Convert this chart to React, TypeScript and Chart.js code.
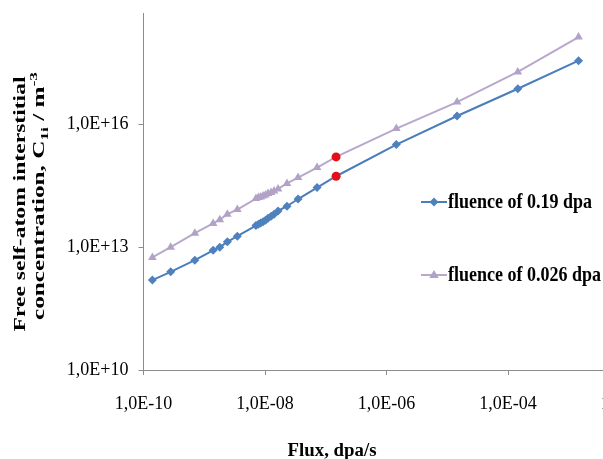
import React, { useEffect, useRef } from "react";
import { Chart, registerables } from "chart.js";

Chart.register(...registerables);

// ---- data ----
const fluxValues = [
  1.4e-10, 2.8e-10, 7.0e-10, 1.4e-9, 1.8e-9, 2.4e-9, 3.5e-9, 7.1e-9,
  7.8e-9, 8.5e-9, 9.3e-9, 1.02e-8, 1.12e-8, 1.26e-8, 1.41e-8, 1.64e-8,
  2.3e-8, 3.5e-8, 7.2e-8, 1.48e-7, 1.45e-6, 1.45e-5, 1.45e-4, 1.45e-3,
];
const fluence019 = [
  1.57e12, 2.5e12, 4.8e12, 8.4e12, 1.0e13, 1.35e13, 1.85e13, 3.38e13,
  3.64e13, 3.9e13, 4.2e13, 4.56e13, 5.1e13, 5.7e13, 6.4e13, 7.7e13,
  1.0e14, 1.5e14, 2.86e14, 5.4e14, 3.2e15, 1.6e16, 7.4e16, 3.6e17,
];
const fluence0026 = [
  5.6e12, 1.0e13, 2.2e13, 3.8e13, 4.7e13, 6.4e13, 8.3e13, 1.54e14,
  1.63e14, 1.69e14, 1.78e14, 1.89e14, 2.04e14, 2.16e14, 2.36e14, 2.64e14,
  3.6e14, 5.0e14, 8.8e14, 1.6e15, 7.9e15, 3.5e16, 1.9e17, 1.35e18,
];
const highlightIndex = 19;
const seriesLabels = ["fluence of 0.19 dpa", "fluence of 0.026 dpa"];
const xTickValues = [1e-10, 1e-8, 1e-6, 1e-4, 1e-2];
const yTickValues = [1e10, 1e13, 1e16];
const xAxisTitle = "Flux, dpa/s";
const yAxisTitleLine1 = "Free self-atom interstitial";

// ---- styles ----
const CANVAS_W = 680;
const SHIFT = 7; // canvas is moved up by this many pixels
const CANVAS_H = 459 + SHIFT;
const BLUE_LINE = "#4a7ebb";
const BLUE_MARK = "#4f81bd";
const PURPLE_LINE = "#b8a8cc";
const PURPLE_MARK = "#b3a2c7";
const RED = "#e3101c";
const AXIS = "#8c8c8c";
const SERIF = "'Liberation Serif', 'Times New Roman', serif";

function fmtSci(v: number): string {
  const e = Math.round(Math.log10(v));
  const sign = e < 0 ? "-" : "+";
  return `1,0E${sign}${String(Math.abs(e)).padStart(2, "0")}`;
}

function drawMarker(ctx: CanvasRenderingContext2D, style: string, x: number, y: number, r: number, color: string) {
  ctx.save();
  ctx.fillStyle = color;
  ctx.beginPath();
  if (style === "rectRot") {
    ctx.moveTo(x, y - r);
    ctx.lineTo(x + r, y);
    ctx.lineTo(x, y + r);
    ctx.lineTo(x - r, y);
  } else {
    ctx.moveTo(x, y - r);
    ctx.lineTo(x + r * 0.95, y + r * 0.6);
    ctx.lineTo(x - r * 0.95, y + r * 0.6);
  }
  ctx.closePath();
  ctx.fill();
  ctx.restore();
}

const decorPlugin = {
  id: "decor",
  afterDraw(chart: any) {
    const ctx: CanvasRenderingContext2D = chart.ctx;
    ctx.save();
    ctx.translate(0, SHIFT);
    ctx.fillStyle = "#000";

    // x axis title
    ctx.font = `bold 18px ${SERIF}`;
    ctx.textAlign = "center";
    ctx.textBaseline = "alphabetic";
    {
      const w = ctx.measureText(xAxisTitle).width;
      ctx.save();
      ctx.translate(332, 456);
      ctx.scale(89 / w, 1);
      ctx.fillText(xAxisTitle, 0, 0);
      ctx.restore();
    }

    // y axis title line 1
    {
      ctx.font = `bold 16px ${SERIF}`;
      const w = ctx.measureText(yAxisTitleLine1).width;
      ctx.save();
      ctx.translate(25, 204);
      ctx.rotate(-Math.PI / 2);
      ctx.scale(255 / w, 1);
      ctx.textAlign = "center";
      ctx.fillText(yAxisTitleLine1, 0, 0);
      ctx.restore();
    }
    // y axis title line 2 with sub/superscripts
    {
      const runs = [
        { t: "concentration, C", size: 16, dy: 0 },
        { t: "1i", size: 11, dy: 4 },
        { t: " / m", size: 16, dy: 0 },
        { t: "-3", size: 11, dy: -7 },
      ];
      let total = 0;
      const widths: number[] = [];
      for (const r of runs) {
        ctx.font = `bold ${r.size}px ${SERIF}`;
        const w = ctx.measureText(r.t).width;
        widths.push(w);
        total += w;
      }
      ctx.save();
      ctx.translate(44, 196);
      ctx.rotate(-Math.PI / 2);
      ctx.scale(248 / total, 1);
      ctx.textAlign = "left";
      let x = -total / 2;
      runs.forEach((r, i) => {
        ctx.font = `bold ${r.size}px ${SERIF}`;
        ctx.fillText(r.t, x, r.dy);
        x += widths[i];
      });
      ctx.restore();
    }

    // legend
    const legendY = [202, 275];
    const legendStyles = [
      { line: BLUE_LINE, mark: BLUE_MARK, style: "rectRot", r: 4.5 },
      { line: PURPLE_LINE, mark: PURPLE_MARK, style: "triangle", r: 5 },
    ];
    ctx.font = `bold 18px ${SERIF}`;
    ctx.textAlign = "left";
    ctx.textBaseline = "middle";
    seriesLabels.forEach((label, i) => {
      const y = legendY[i];
      const s = legendStyles[i];
      ctx.strokeStyle = s.line;
      ctx.lineWidth = 2;
      ctx.beginPath();
      ctx.moveTo(421, y);
      ctx.lineTo(447, y);
      ctx.stroke();
      drawMarker(ctx, s.style, 434, y, s.r, s.mark);
      ctx.fillStyle = "#000";
      ctx.save();
      ctx.translate(448, y + 1);
      ctx.scale(1, 1.15);
      ctx.fillText(label, 0, 0);
      ctx.restore();
    });
    ctx.restore();
  },
};

export default function App() {
  const ref = useRef<HTMLCanvasElement | null>(null);

  useEffect(() => {
    if (!ref.current) return;
    const mk = (ys: number[]) => fluxValues.map((x, i) => ({ x, y: ys[i] }));
    const chart = new Chart(ref.current, {
      type: "line",
      data: {
        datasets: [
          {
            label: seriesLabels[0],
            data: mk(fluence019),
            borderColor: BLUE_LINE,
            borderWidth: 2,
            pointStyle: ((c: any) => (c.dataIndex === highlightIndex ? "circle" : "rectRot")) as any,
            pointRadius: 4.5,
            pointBorderWidth: 0,
            pointBackgroundColor: ((c: any) => (c.dataIndex === highlightIndex ? RED : BLUE_MARK)) as any,
            tension: 0,
          },
          {
            label: seriesLabels[1],
            data: mk(fluence0026),
            borderColor: PURPLE_LINE,
            borderWidth: 2,
            pointStyle: ((c: any) => (c.dataIndex === highlightIndex ? "circle" : "triangle")) as any,
            pointRadius: ((c: any) => (c.dataIndex === highlightIndex ? 4.5 : 5)) as any,
            pointBorderWidth: 0,
            pointBackgroundColor: ((c: any) => (c.dataIndex === highlightIndex ? RED : PURPLE_MARK)) as any,
            tension: 0,
          },
        ],
      },
      options: {
        responsive: false,
        animation: false,
        layout: { padding: { left: 0, top: 13, right: CANVAS_W - 629.5, bottom: 0 } },
        plugins: { legend: { display: false }, tooltip: { enabled: false } },
        scales: {
          x: {
            type: "logarithmic",
            min: 1e-10,
            max: 1e-2,
            bounds: "data",
            afterBuildTicks: (s: any) => {
              s.ticks = xTickValues.map((value) => ({ value }));
            },
            afterFit: (s: any) => {
              s.height = 89;
            },
            ticks: {
              callback: (v: any) => fmtSci(Number(v)),
              font: { family: SERIF, size: 18 },
              color: "#000",
              padding: 18,
              maxRotation: 0,
              autoSkip: false,
            },
            grid: { drawOnChartArea: false, tickLength: 5, color: AXIS },
            border: { color: AXIS, width: 1 },
          },
          y: {
            type: "logarithmic",
            min: 1e10,
            max: Math.pow(10, 18.7),
            bounds: "data",
            afterBuildTicks: (s: any) => {
              s.ticks = yTickValues.map((value) => ({ value }));
            },
            afterFit: (s: any) => {
              s.width = 143.5;
            },
            ticks: {
              callback: (v: any) => fmtSci(Number(v)),
              font: { family: SERIF, size: 18 },
              color: "#000",
              padding: 10,
              autoSkip: false,
            },
            grid: { drawOnChartArea: false, tickLength: 5, color: AXIS },
            border: { color: AXIS, width: 1 },
          },
        },
      } as any,
      plugins: [decorPlugin],
    });
    return () => chart.destroy();
  }, []);

  return (
    <div
      style={{
        position: "absolute",
        left: 0,
        top: 0,
        width: 603,
        height: 459,
        overflow: "hidden",
        background: "#fff",
      }}
    >
      <canvas
        ref={ref}
        width={CANVAS_W}
        height={CANVAS_H}
        style={{ display: "block", width: CANVAS_W, height: CANVAS_H, marginTop: -SHIFT }}
      />
    </div>
  );
}
